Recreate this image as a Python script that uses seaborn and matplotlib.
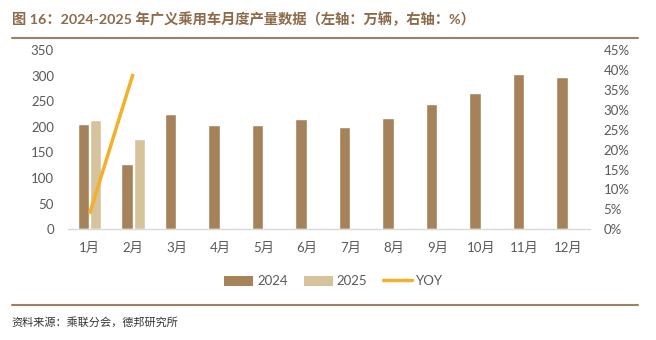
import matplotlib
matplotlib.use("Agg")
import matplotlib.pyplot as plt
import seaborn as sns
import pandas as pd
import numpy as np
from matplotlib.patches import Patch
from matplotlib.lines import Line2D

months = ["1月", "2月", "3月", "4月", "5月", "6月", "7月", "8月", "9月", "10月", "11月", "12月"]
prod_2024 = [205, 127, 225, 203, 204, 216, 200, 218, 244, 267, 304, 297]
prod_2025 = [213, 176]
yoy = [3.9, 39.0]  # percent

sns.set_theme(style="white")
plt.rcParams['font.family'] = ['Lato', 'Noto Sans CJK SC', 'DejaVu Sans']

c24 = "#A6825A"
c25 = "#D5C39C"
cyoy = "#F4B02A"
grey = "#595959"
brown = "#8C6A4A"

rows = []
for m, v in zip(months, prod_2024):
    rows.append({"month": m, "year": "2024", "value": v})
for i, m in enumerate(months):
    rows.append({"month": m, "year": "2025", "value": prod_2025[i] if i < len(prod_2025) else np.nan})
df = pd.DataFrame(rows)

fig = plt.figure(figsize=(6.56, 3.4), dpi=100)
ax = fig.add_axes([0.1034, 0.3256, 0.7956, 0.5274])

sns.barplot(data=df, x="month", y="value", hue="year", order=months,
            hue_order=["2024", "2025"], palette=[c24, c25], width=0.56, gap=0.08,
            ax=ax, legend=False, saturation=1)
ax.set_xlim(-0.5, 11.5)
ax.set_ylim(0, 350)
ax.set_yticks(range(0, 351, 50))
ax.set_xlabel("")
ax.set_ylabel("")
for s in ["top", "right", "left"]:
    ax.spines[s].set_visible(False)
ax.spines["bottom"].set_color("#D9D9D9")
ax.spines["bottom"].set_linewidth(1)
ax.tick_params(axis="both", length=0, labelsize=9.5, labelcolor=grey)
ax.tick_params(axis="x", pad=9)
ax.tick_params(axis="y", pad=10)

ax2 = ax.twinx()
ax2.plot([0, 1], yoy, color=cyoy, lw=2.5, solid_capstyle="butt")
ax2.set_ylim(0, 45)
ax2.set_yticks(range(0, 46, 5))
ax2.set_yticklabels([f"{v}%" for v in range(0, 46, 5)])
for s in ["top", "right", "left", "bottom"]:
    ax2.spines[s].set_visible(False)
ax2.tick_params(axis="y", length=0, labelsize=9.5, labelcolor=grey, pad=10)
ax2.grid(False)
ax.grid(False)

handles = [Patch(facecolor=c24, edgecolor="none"),
           Patch(facecolor=c25, edgecolor="none"),
           Line2D([0], [0], color=cyoy, lw=2.5)]
fig.legend(handles, ["2024", "2025", "YOY"], loc="center", bbox_to_anchor=(0.509, 0.173),
           ncol=3, frameon=False, fontsize=9.5, labelcolor=grey,
           handlelength=2.2, handleheight=0.8, handletextpad=0.3, columnspacing=1.2)

fig.text(0.018, 0.946, "图 16：2024-2025 年广义乘用车月度产量数据（左轴：万辆，右轴：%）",
         fontsize=10.3, fontweight="bold", color=brown, va="center", ha="left")
fig.add_artist(Line2D([0.018, 0.973], [0.888, 0.888], color=brown, lw=1.5, alpha=0.85))
fig.add_artist(Line2D([0.018, 0.973], [0.103, 0.103], color=brown, lw=1.5, alpha=0.85))
fig.text(0.018, 0.053, "资料来源：乘联分会，德邦研究所", fontsize=8, color="#333333",
         va="center", ha="left")

fig.savefig("out.png", dpi=100)
